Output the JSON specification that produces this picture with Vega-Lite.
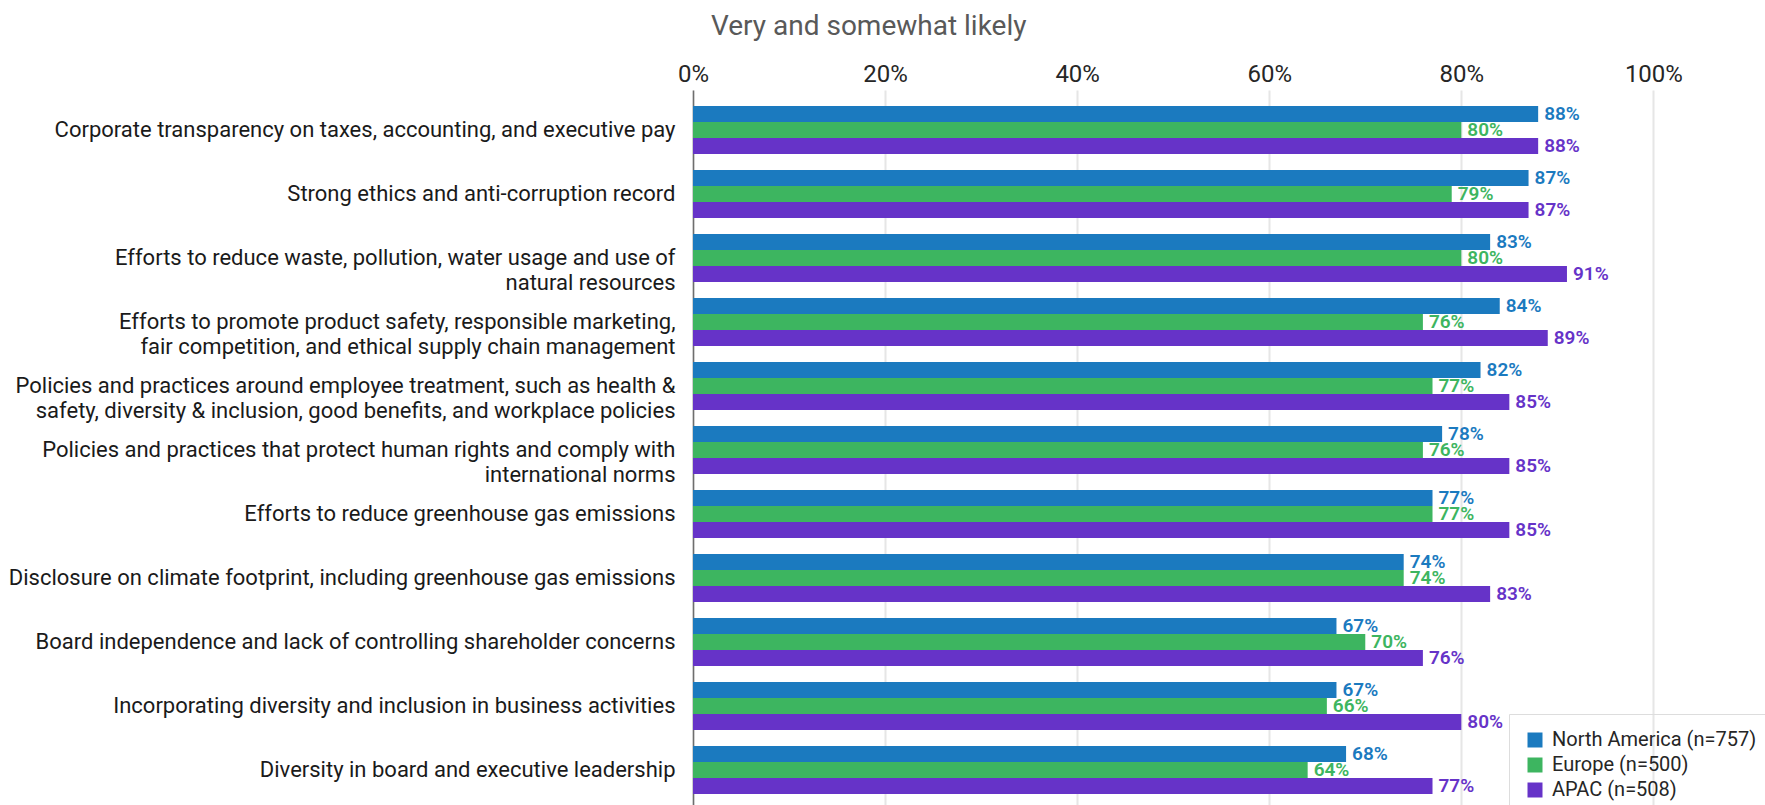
{
  "$schema": "https://vega.github.io/schema/vega-lite/v6.json",
  "autosize": {"type": "none"},
  "padding": {"left": 693, "top": 90, "right": 0, "bottom": 0},
  "width": 1072,
  "height": 715,
  "background": "white",
  "title": {
    "text": "Very and somewhat likely",
    "anchor": "start",
    "frame": "group",
    "dx": 18,
    "offset": 21,
    "font": "Roboto",
    "fontSize": 28,
    "fontWeight": "normal",
    "color": "#595959"
  },
  "config": {
    "view": {"stroke": null},
    "font": "Roboto"
  },
  "data": {
    "values": [
      {"item": "Corporate transparency on taxes, accounting, and executive pay", "region": "North America (n=757)", "value": 0.88},
      {"item": "Corporate transparency on taxes, accounting, and executive pay", "region": "Europe (n=500)", "value": 0.80},
      {"item": "Corporate transparency on taxes, accounting, and executive pay", "region": "APAC (n=508)", "value": 0.88},
      {"item": "Strong ethics and anti-corruption record", "region": "North America (n=757)", "value": 0.87},
      {"item": "Strong ethics and anti-corruption record", "region": "Europe (n=500)", "value": 0.79},
      {"item": "Strong ethics and anti-corruption record", "region": "APAC (n=508)", "value": 0.87},
      {"item": "Efforts to reduce waste, pollution, water usage and use of|natural resources", "region": "North America (n=757)", "value": 0.83},
      {"item": "Efforts to reduce waste, pollution, water usage and use of|natural resources", "region": "Europe (n=500)", "value": 0.80},
      {"item": "Efforts to reduce waste, pollution, water usage and use of|natural resources", "region": "APAC (n=508)", "value": 0.91},
      {"item": "Efforts to promote product safety, responsible marketing,|fair competition, and ethical supply chain management", "region": "North America (n=757)", "value": 0.84},
      {"item": "Efforts to promote product safety, responsible marketing,|fair competition, and ethical supply chain management", "region": "Europe (n=500)", "value": 0.76},
      {"item": "Efforts to promote product safety, responsible marketing,|fair competition, and ethical supply chain management", "region": "APAC (n=508)", "value": 0.89},
      {"item": "Policies and practices around employee treatment, such as health &|safety, diversity & inclusion, good benefits, and workplace policies", "region": "North America (n=757)", "value": 0.82},
      {"item": "Policies and practices around employee treatment, such as health &|safety, diversity & inclusion, good benefits, and workplace policies", "region": "Europe (n=500)", "value": 0.77},
      {"item": "Policies and practices around employee treatment, such as health &|safety, diversity & inclusion, good benefits, and workplace policies", "region": "APAC (n=508)", "value": 0.85},
      {"item": "Policies and practices that protect human rights and comply with|international norms", "region": "North America (n=757)", "value": 0.78},
      {"item": "Policies and practices that protect human rights and comply with|international norms", "region": "Europe (n=500)", "value": 0.76},
      {"item": "Policies and practices that protect human rights and comply with|international norms", "region": "APAC (n=508)", "value": 0.85},
      {"item": "Efforts to reduce greenhouse gas emissions", "region": "North America (n=757)", "value": 0.77},
      {"item": "Efforts to reduce greenhouse gas emissions", "region": "Europe (n=500)", "value": 0.77},
      {"item": "Efforts to reduce greenhouse gas emissions", "region": "APAC (n=508)", "value": 0.85},
      {"item": "Disclosure on climate footprint, including greenhouse gas emissions", "region": "North America (n=757)", "value": 0.74},
      {"item": "Disclosure on climate footprint, including greenhouse gas emissions", "region": "Europe (n=500)", "value": 0.74},
      {"item": "Disclosure on climate footprint, including greenhouse gas emissions", "region": "APAC (n=508)", "value": 0.83},
      {"item": "Board independence and lack of controlling shareholder concerns", "region": "North America (n=757)", "value": 0.67},
      {"item": "Board independence and lack of controlling shareholder concerns", "region": "Europe (n=500)", "value": 0.70},
      {"item": "Board independence and lack of controlling shareholder concerns", "region": "APAC (n=508)", "value": 0.76},
      {"item": "Incorporating diversity and inclusion in business activities", "region": "North America (n=757)", "value": 0.67},
      {"item": "Incorporating diversity and inclusion in business activities", "region": "Europe (n=500)", "value": 0.66},
      {"item": "Incorporating diversity and inclusion in business activities", "region": "APAC (n=508)", "value": 0.80},
      {"item": "Diversity in board and executive leadership", "region": "North America (n=757)", "value": 0.68},
      {"item": "Diversity in board and executive leadership", "region": "Europe (n=500)", "value": 0.64},
      {"item": "Diversity in board and executive leadership", "region": "APAC (n=508)", "value": 0.77}
    ]
  },
  "encoding": {
    "y": {
      "field": "item",
      "type": "nominal",
      "sort": null,
      "scale": {"paddingInner": 0.25, "paddingOuter": 0.2109375, "align": 0.593},
      "axis": {
        "title": null,
        "ticks": false,
        "domain": true,
        "domainColor": "#6e6e6e",
        "domainWidth": 1.5,
        "labelFont": "Roboto",
        "labelFontSize": 22,
        "labelColor": "#1a1a1a",
        "labelPadding": 18,
        "labelLimit": 0,
        "labelLineHeight": 25,
        "labelExpr": "split(datum.label, '|')"
      }
    },
    "yOffset": {
      "field": "region",
      "type": "nominal",
      "sort": ["North America (n=757)", "Europe (n=500)", "APAC (n=508)"],
      "scale": {"paddingInner": 0, "paddingOuter": 0}
    },
    "x": {
      "field": "value",
      "type": "quantitative",
      "scale": {"domain": [0, 1.1162], "nice": false},
      "axis": {
        "orient": "top",
        "title": null,
        "values": [0, 0.2, 0.4, 0.6, 0.8, 1],
        "format": ".0%",
        "labelFlush": false,
        "domain": false,
        "ticks": false,
        "grid": true,
        "gridColor": "#e6e6e6",
        "gridWidth": 2,
        "labelFont": "Roboto",
        "labelFontSize": 24,
        "labelColor": "#262626",
        "labelPadding": 4
      }
    },
    "color": {
      "field": "region",
      "type": "nominal",
      "sort": ["North America (n=757)", "Europe (n=500)", "APAC (n=508)"],
      "scale": {
        "domain": ["North America (n=757)", "Europe (n=500)", "APAC (n=508)"],
        "range": ["#1b7abf", "#3db560", "#6633c8"]
      },
      "legend": {
        "title": null,
        "orient": "none",
        "legendX": 816,
        "legendY": 624,
        "strokeColor": "#dddddd",
        "padding": 16,
        "symbolType": "square",
        "symbolSize": 225,
        "symbolStrokeWidth": 0,
        "symbolOpacity": 1,
        "labelFont": "Roboto",
        "labelFontSize": 20,
        "labelColor": "#262626",
        "labelOffset": 7,
        "rowPadding": 5,
        "labelLimit": 0
      }
    }
  },
  "layer": [
    {"mark": {"type": "bar", "opacity": 1}},
    {
      "mark": {
        "type": "text",
        "align": "left",
        "baseline": "middle",
        "dx": 6,
        "font": "Roboto",
        "fontSize": 19,
        "fontWeight": 600
      },
      "encoding": {
        "text": {"field": "value", "type": "quantitative", "format": ".0%"}
      }
    }
  ]
}
